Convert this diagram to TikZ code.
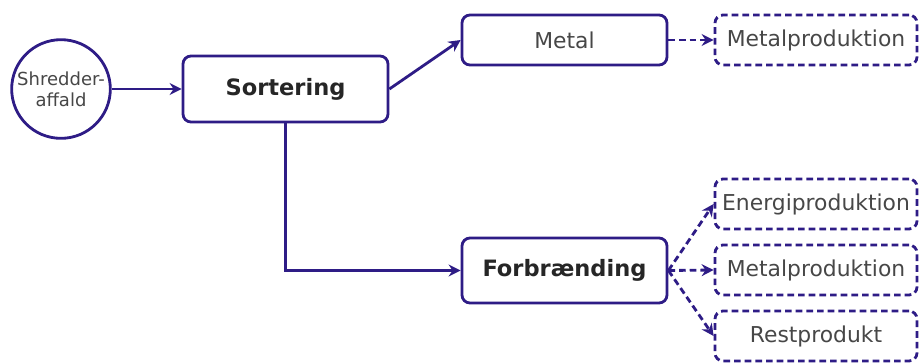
\documentclass[tikz,border=0pt]{standalone}
\usepackage{fontspec}
\setmainfont{DejaVu Sans}
\usetikzlibrary{arrows.meta,positioning}
\definecolor{ink}{HTML}{2E1C86}
\definecolor{txt}{HTML}{474747}
\tikzset{
  tip/.style={-{Stealth[length=9pt,width=9pt,inset=3pt]}},
  conn/.style={draw=ink,line width=2.1pt,tip},
  dconn/.style={conn,dash pattern=on 5pt off 3pt},
  procbox/.style={draw=ink,line width=2.1pt,rounded corners=6pt,fill=white,
    minimum width=153.75pt,align=center,inner sep=0pt},
  outbox/.style={draw=ink,line width=2.1pt,rounded corners=6pt,fill=white,
    dash pattern=on 5pt off 3pt,minimum width=151.5pt,minimum height=37.5pt,
    inner sep=0pt,text=txt,font=\fontsize{16.4}{19}\selectfont},
  srcnode/.style={draw=ink,line width=2.1pt,circle,minimum size=74pt,inner sep=0pt,
    align=center,text=txt,font=\fontsize{13.5}{16}\selectfont},
}
\begin{document}
\begin{tikzpicture}[x=0.75pt,y=-0.75pt]
\path[use as bounding box,fill=white] (0,0) rectangle (920,362);
\node[srcnode] (src) at (61,89) {Shredder-\\affald};
\node[procbox,minimum height=49.5pt,font=\bfseries\fontsize{16.9}{20}\selectfont,text=black!85] (sort) at (285.5,89) {Sortering};
\node[procbox,minimum height=37.5pt,font=\fontsize{16.4}{19}\selectfont,text=txt] (metal) at (564.5,40) {Metal};
\node[procbox,minimum height=48.75pt,font=\bfseries\fontsize{16.9}{20}\selectfont,text=black!85] (forb) at (564.5,270.5) {Forbrænding};
\node[outbox] (mp1) at (816,40) {Metalproduktion};
\node[outbox] (energi) at (816,204) {Energiproduktion};
\node[outbox] (mp2) at (816,270) {Metalproduktion};
\node[outbox] (rest) at (816,336) {Restprodukt};
\draw[conn] (src) -- (sort);
\draw[conn] (sort.east) -- (metal.west);
\draw[conn] (sort.south) |- (forb.west);
\draw[dconn] (metal.east) -- (mp1.west);
\draw[dconn] (forb.east) -- (energi.west);
\draw[dconn] (forb.east) -- (mp2.west);
\draw[dconn] (forb.east) -- (rest.west);
\end{tikzpicture}
\end{document}
